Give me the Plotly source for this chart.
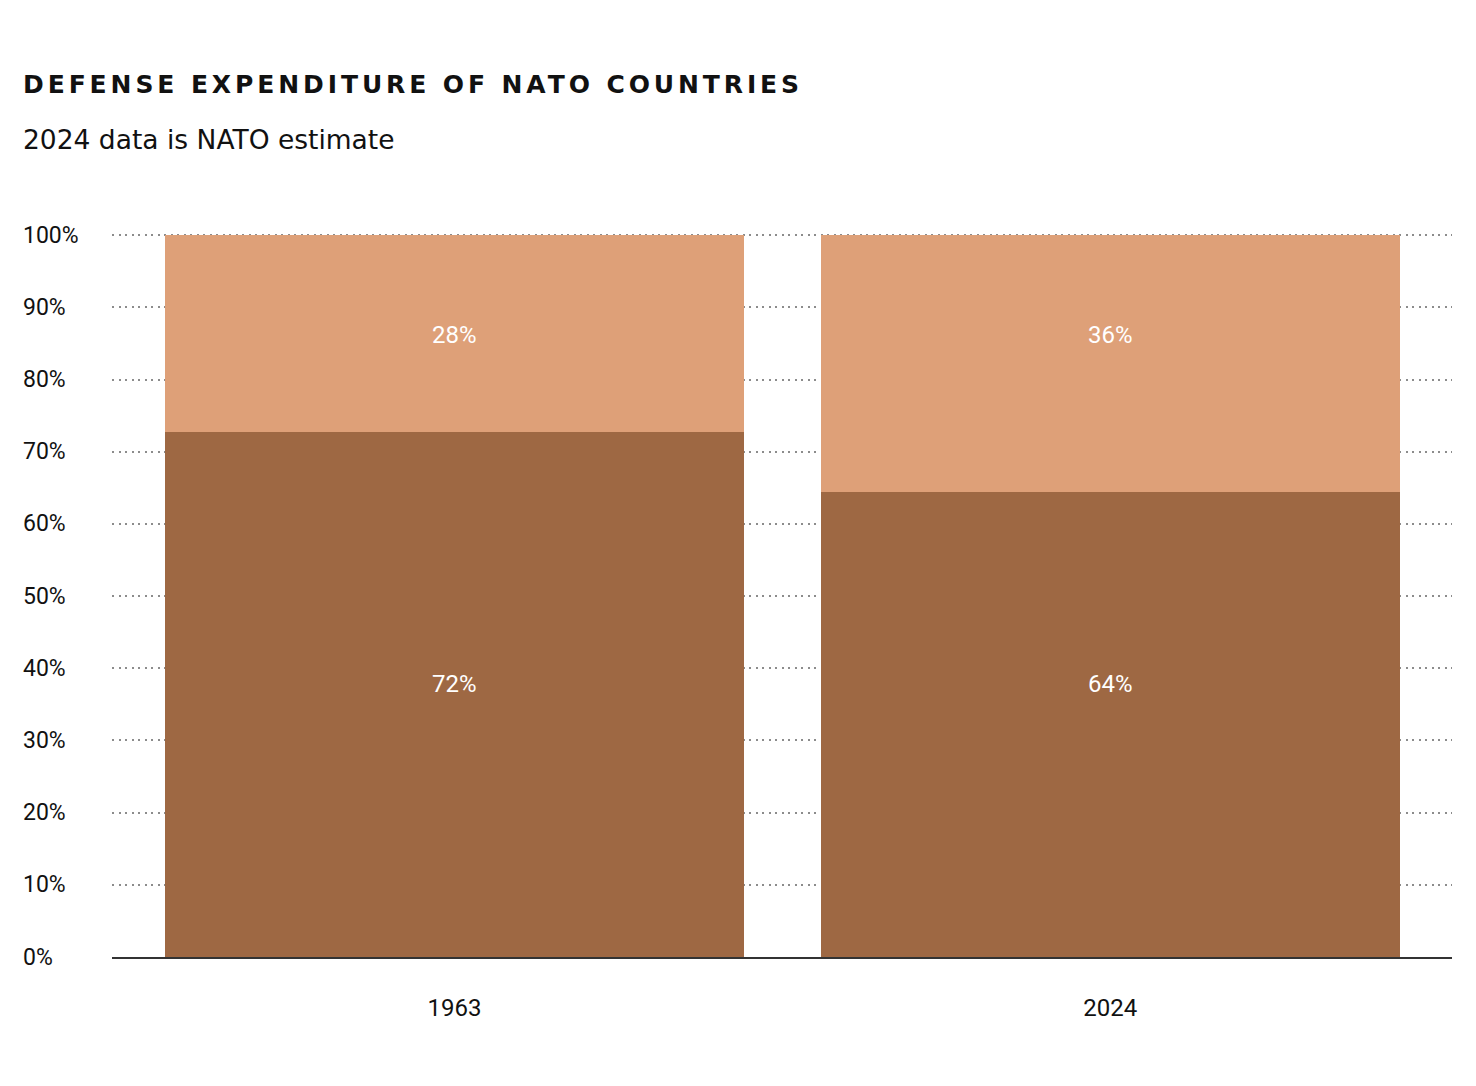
import plotly.graph_objects as go

# ---- data ----
years = ["1963", "2024"]
us_share = [72.7, 64.4]          # bottom segment (dark)
allies_share = [27.3, 35.6]      # top segment (light)
us_labels = ["72%", "64%"]
allies_labels = ["28%", "36%"]
y_ticks = [0, 10, 20, 30, 40, 50, 60, 70, 80, 90, 100]
y_tick_text = ["0%", "10%", "20%", "30%", "40%", "50%", "60%", "70%", "80%", "90%", "100%"]

# ---- style ----
DARK = "#9E6843"
LIGHT = "#DEA078"
W, H = 1460, 1078            # page has an 8px body margin
L, R, T, B = 104, 16, 225, 129
PLOT_W = W - L - R
PLOT_H = H - T - B
LABEL_FONT = "Roboto, Open Sans, sans-serif"
top_label_y = 86.2
bottom_label_y = 37.8
TEXT_LEFT = 13


def px_to_paper_x(px):
    return (px - L) / PLOT_W


def px_to_paper_y(py):
    return (H - B - py) / PLOT_H


x = list(range(len(years)))

fig = go.Figure()
fig.add_trace(go.Bar(x=x, y=us_share, name="United States", marker=dict(color=DARK, line=dict(width=0)),
                     width=0.883, hoverinfo="skip"))
fig.add_trace(go.Bar(x=x, y=allies_share, name="Other NATO allies", marker=dict(color=LIGHT, line=dict(width=0)),
                     width=0.883, hoverinfo="skip"))

annotations = []
for i in x:
    annotations.append(dict(x=i, y=top_label_y, xref="x", yref="y", text=allies_labels[i], showarrow=False,
                            font=dict(family=LABEL_FONT, size=24, color="white")))
    annotations.append(dict(x=i, y=bottom_label_y, xref="x", yref="y", text=us_labels[i], showarrow=False,
                            font=dict(family=LABEL_FONT, size=24, color="white")))

for v, t in zip(y_ticks, y_tick_text):
    annotations.append(dict(x=px_to_paper_x(TEXT_LEFT), y=v, xref="paper", yref="y", text=t, showarrow=False,
                            xanchor="left", yanchor="middle",
                            font=dict(family=LABEL_FONT, size=23, color="#111111")))

# title + subtitle
annotations.append(dict(
    x=px_to_paper_x(TEXT_LEFT), y=px_to_paper_y(77), xref="paper", yref="paper",
    xanchor="left", yanchor="middle", showarrow=False,
    text='<span style="letter-spacing:3.9px">DEFENSE EXPENDITURE OF NATO COUNTRIES</span>',
    font=dict(family="DejaVu Sans, sans-serif", size=25, color="#111111", weight="bold"),
))
annotations.append(dict(
    x=px_to_paper_x(TEXT_LEFT), y=px_to_paper_y(131), xref="paper", yref="paper",
    xanchor="left", yanchor="middle", showarrow=False,
    text="2024 data is NATO estimate",
    font=dict(family="DejaVu Sans, sans-serif", size=26.5, color="#111111"),
))

fig.update_layout(
    width=W, height=H,
    margin=dict(l=L, r=R, t=T, b=B),
    barmode="stack",
    bargap=0,
    showlegend=False,
    plot_bgcolor="white", paper_bgcolor="white",
    annotations=annotations,
    xaxis=dict(
        range=[-0.522, 1.521],
        tickmode="array", tickvals=x, ticktext=years,
        tickfont=dict(family=LABEL_FONT, size=24, color="#111111"),
        ticks="", ticklen=0, ticklabelstandoff=28,
        showgrid=False, zeroline=False,
        showline=True, linecolor="#333333", linewidth=2,
        fixedrange=True,
    ),
    yaxis=dict(
        range=[0, 100.3],
        tickmode="array", tickvals=y_ticks, showticklabels=False,
        showgrid=True, gridcolor="#8c8c8c", gridwidth=2, griddash="2px,4.5px",
        zeroline=False, showline=False, ticks="",
        fixedrange=True,
    ),
)

fig.write_html("out.html")
